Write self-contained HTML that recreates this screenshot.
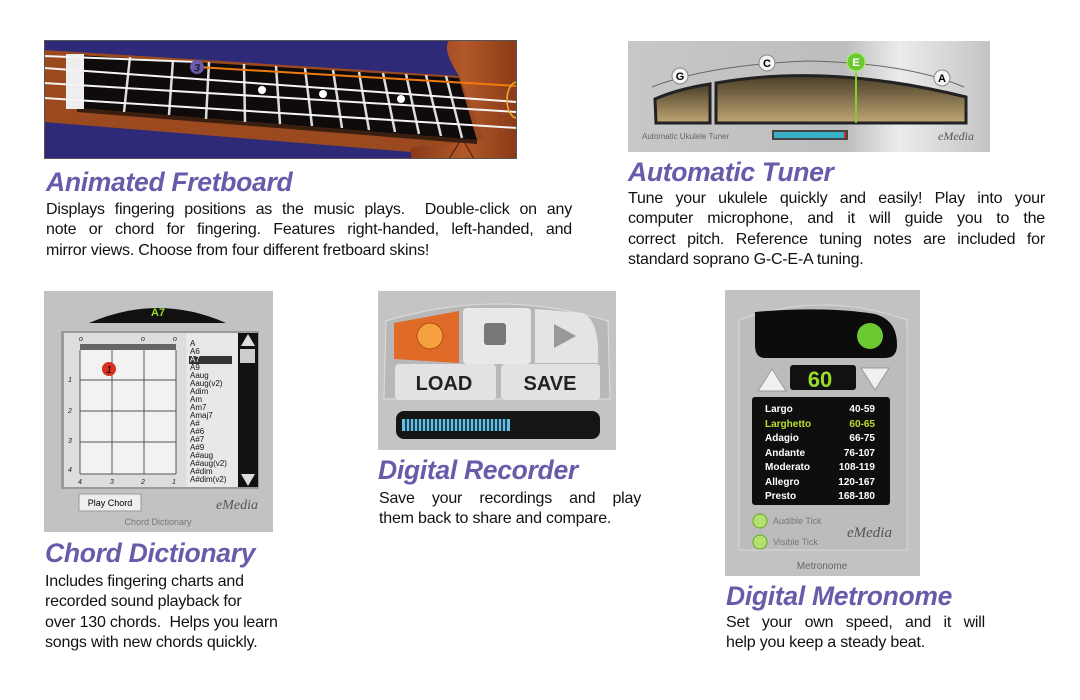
<!DOCTYPE html>
<html><head><meta charset="utf-8"><style>
body{margin:0;width:1080px;height:700px;background:#fff;position:relative;overflow:hidden;font-family:"Liberation Sans",sans-serif}
.a{position:absolute}
h2{position:absolute;margin:0;font:italic bold 26.5px "Liberation Sans",sans-serif;color:#6a5aaa;white-space:nowrap;letter-spacing:-0.3px}
.t{position:absolute;font-size:16px;line-height:20.3px;color:#111;letter-spacing:-0.2px}
.t div{white-space:nowrap;text-align:justify;text-align-last:justify}
.t div.l{text-align-last:left}
</style></head><body>

<!-- Fretboard -->
<svg class="a" style="left:44px;top:40px" width="473" height="119" viewBox="0 0 473 119">
<defs><linearGradient id="bd" x1="0" x2="1"><stop offset="0" stop-color="#8a3a18"/><stop offset=".5" stop-color="#b2582a"/><stop offset="1" stop-color="#8a3a18"/></linearGradient></defs>
<rect width="473" height="119" fill="#2e2a78"/>
<path d="M0 10 L33 12 L415 36 L440 100 L367 108 L367 119 L0 119 L0 78 Z" fill="#9a4a1e"/>
<path d="M0 82 L367 112 L367 119 L0 119 Z" fill="#2e2a78"/>
<path d="M405 0 L473 0 L473 119 L367 119 L367 108 L440 100 L415 36 Q398 10 405 0 Z" fill="url(#bd)"/>
<path d="M405 119 L418 98 L430 119" stroke="#4a1a08" fill="none"/>
<path d="M33 15 L415 38 L433 100 L33 68 Z" fill="#0e0b0a"/>
<path d="M33 68 L433 100 L433 104 L33 72 Z" fill="#3a1e10"/>
<rect x="22" y="14" width="18" height="55" fill="#eee"/>
<g stroke="#ddd" stroke-width="2.5">
<line x1="86" y1="17" x2="80" y2="72"/><line x1="129" y1="20" x2="125" y2="75"/><line x1="165" y1="22" x2="162" y2="79"/>
<line x1="200" y1="24" x2="201" y2="82"/><line x1="232" y1="26" x2="236" y2="84"/><line x1="261" y1="28" x2="268" y2="86"/>
<line x1="289" y1="30" x2="298" y2="88"/><line x1="315" y1="32" x2="325" y2="90"/><line x1="339" y1="33" x2="351" y2="92"/>
<line x1="362" y1="34" x2="375" y2="94"/><line x1="382" y1="35" x2="397" y2="96"/><line x1="402" y1="36" x2="418" y2="98"/></g>
<g stroke="#f4f4f4" stroke-width="2" fill="none">
<line x1="0" y1="16" x2="153" y2="22"/><line x1="0" y1="28" x2="473" y2="62"/><line x1="0" y1="43" x2="473" y2="72"/><line x1="0" y1="58" x2="473" y2="88"/></g>
<line x1="153" y1="27" x2="473" y2="46" stroke="#f07a10" stroke-width="2"/>
<circle cx="218" cy="50" r="4" fill="#fff"/><circle cx="279" cy="54" r="4" fill="#fff"/><circle cx="357" cy="59" r="4" fill="#fff"/>
<circle cx="153" cy="27" r="7" fill="#6b5bb0"/><text x="153" y="31.5" font-size="11" font-weight="bold" font-style="italic" text-anchor="middle" fill="#222">3</text>
<path d="M473 42 A10 18 0 0 0 473 78" stroke="#e8b030" stroke-width="1.5" fill="none"/>
<rect x="0.5" y="0.5" width="472" height="118" fill="none" stroke="#555"/>
</svg>
<h2 style="left:46px;top:167px">Animated Fretboard</h2>
<div class="t" style="left:46px;top:200px;width:526px">
<div>Displays fingering positions as the music plays.&nbsp; Double-click on any</div>
<div>note or chord for fingering. Features right-handed, left-handed, and</div>
<div class="l">mirror views. Choose from four different fretboard skins!</div></div>

<!-- Tuner -->
<svg class="a" style="left:628px;top:41px" width="362" height="111" viewBox="0 0 362 111">
<defs><linearGradient id="met" x1="0" x2="1"><stop offset="0" stop-color="#c8c8c8"/><stop offset=".6" stop-color="#bdbdbd"/><stop offset=".75" stop-color="#ececec"/><stop offset="1" stop-color="#c4c4c4"/></linearGradient>
<linearGradient id="win" x1="0" y1="0" x2="0" y2="1"><stop offset="0" stop-color="#4a3e28"/><stop offset="1" stop-color="#c0a674"/></linearGradient></defs>
<rect width="362" height="111" fill="url(#met)"/>
<path d="M24 46 Q80 24 180 20 Q280 22 336 46" stroke="#666" fill="none"/>
<path d="M27 58 Q50 48 82 43 L82 82 L28 82 Z" fill="url(#win)" stroke="#222" stroke-width="3"/>
<path d="M88 42 Q200 22 338 56 L338 82 L88 82 Z" fill="url(#win)" stroke="#222" stroke-width="3"/>
<line x1="228" y1="32" x2="228" y2="82" stroke="#7ed02a" stroke-width="2"/>
<g font-size="11" font-weight="bold" text-anchor="middle">
<circle cx="52" cy="35" r="8" fill="#f4f4f4" stroke="#888"/><text x="52" y="39">G</text>
<circle cx="139" cy="22" r="8" fill="#f4f4f4" stroke="#888"/><text x="139" y="26">C</text>
<circle cx="228" cy="21" r="9" fill="#6cc830" stroke="#9ef060"/><text x="228" y="25" fill="#fff">E</text>
<circle cx="314" cy="37" r="8" fill="#f4f4f4" stroke="#888"/><text x="314" y="41">A</text></g>
<text x="14" y="98" font-size="8" fill="#666">Automatic Ukulele Tuner</text>
<rect x="144" y="89" width="76" height="10" fill="#444"/><rect x="146" y="91" width="70" height="6" fill="#3ab0c8"/><rect x="216" y="91" width="2" height="6" fill="#d22"/>
<text x="310" y="99" font-size="12" font-style="italic" font-family="Liberation Serif" fill="#555">eMedia</text>
</svg>
<h2 style="left:628px;top:157px">Automatic Tuner</h2>
<div class="t" style="left:628px;top:189px;width:417px">
<div>Tune your ukulele quickly and easily! Play into your</div>
<div>computer microphone, and it will guide you to the</div>
<div>correct pitch. Reference tuning notes are included for</div>
<div class="l">standard soprano G-C-E-A tuning.</div></div>

<!-- Chord Dictionary -->
<svg class="a" style="left:44px;top:291px" width="229" height="241" viewBox="0 0 229 241">
<rect width="229" height="241" fill="#c2c2c2"/>
<path d="M45 32 Q114 2 182 32 Z" fill="#111"/>
<text x="114" y="25" font-size="11" fill="#9adc2a" text-anchor="middle" font-weight="bold">A7</text>
<rect x="17" y="40" width="198" height="158" fill="#999"/>
<rect x="20" y="42" width="122" height="154" fill="#ddd"/>
<rect x="142" y="42" width="52" height="154" fill="#e8e8e8"/>
<rect x="194" y="42" width="20" height="154" fill="#111"/>
<path d="M197 55 L204 43 L211 55 Z" fill="#ddd"/><path d="M197 183 L204 195 L211 183 Z" fill="#ddd"/><rect x="196" y="58" width="15" height="14" fill="#ccc"/>
<rect x="36" y="53" width="96" height="130" fill="#f2f2f2"/><rect x="36" y="53" width="96" height="6" fill="#666"/>
<g stroke="#555" stroke-width="1"><line x1="36" y1="59" x2="36" y2="183"/><line x1="68" y1="59" x2="68" y2="183"/><line x1="100" y1="59" x2="100" y2="183"/><line x1="132" y1="59" x2="132" y2="183"/>
<line x1="36" y1="89" x2="132" y2="89"/><line x1="36" y1="120" x2="132" y2="120"/><line x1="36" y1="151" x2="132" y2="151"/><line x1="36" y1="183" x2="132" y2="183"/></g>
<circle cx="65" cy="78" r="7" fill="#d8301e"/><text x="65" y="82" font-size="10" font-style="italic" text-anchor="middle">1</text>
<g font-size="7" font-style="italic" fill="#222"><text x="35" y="50">o</text><text x="97" y="50">o</text><text x="129" y="50">o</text>
<text x="24" y="91">1</text><text x="24" y="122">2</text><text x="24" y="152">3</text><text x="24" y="181">4</text>
<text x="34" y="193">4</text><text x="66" y="193">3</text><text x="97" y="193">2</text><text x="128" y="193">1</text></g>
<rect x="145" y="65" width="43" height="8" fill="#333"/>
<g font-size="8" fill="#111"><text x="146" y="55">A</text><text x="146" y="63">A6</text><text x="146" y="71" fill="#fff">A7</text><text x="146" y="79">A9</text><text x="146" y="87">Aaug</text><text x="146" y="95">Aaug(v2)</text><text x="146" y="103">Adim</text><text x="146" y="111">Am</text><text x="146" y="119">Am7</text><text x="146" y="127">Amaj7</text><text x="146" y="135">A#</text><text x="146" y="143">A#6</text><text x="146" y="151">A#7</text><text x="146" y="159">A#9</text><text x="146" y="167">A#aug</text><text x="146" y="175">A#aug(v2)</text><text x="146" y="183">A#dim</text><text x="146" y="191">A#dim(v2)</text></g>
<rect x="35" y="203" width="62" height="17" fill="#eee" stroke="#999"/><text x="66" y="215" font-size="9" text-anchor="middle">Play Chord</text>
<text x="172" y="218" font-size="14" font-style="italic" font-family="Liberation Serif" fill="#555">eMedia</text>
<text x="114" y="234" font-size="9" fill="#777" text-anchor="middle">Chord Dictionary</text>
</svg>
<h2 style="left:45px;top:538px">Chord Dictionary</h2>
<div class="t" style="left:45px;top:572px">
<div class="l">Includes fingering charts and</div>
<div class="l">recorded sound playback for</div>
<div class="l">over 130 chords.&nbsp; Helps you learn</div>
<div class="l">songs with new chords quickly.</div></div>

<!-- Recorder -->
<svg class="a" style="left:378px;top:291px" width="238" height="159" viewBox="0 0 238 159">
<rect width="238" height="159" fill="#c4c4c4"/>
<path d="M8 30 Q120 -4 230 30 L232 108 L6 108 Z" fill="#b8b8b8" stroke="#ddd"/>
<path d="M16 32 L81 20 L81 72 L16 68 Z" fill="#e06a28"/>
<circle cx="52" cy="45" r="13" fill="#f4a040" stroke="#b84a10"/>
<rect x="85" y="17" width="68" height="56" rx="4" fill="#e8e8e8"/><rect x="106" y="32" width="22" height="22" rx="3" fill="#777"/>
<path d="M157 18 L205 22 Q222 30 220 72 L157 72 Z" fill="#e4e4e4"/><path d="M176 33 L198 45 L176 57 Z" fill="#999"/>
<rect x="17" y="73" width="101" height="36" rx="4" fill="#e2e2e2"/><rect x="123" y="73" width="99" height="36" rx="4" fill="#e2e2e2"/>
<text x="66" y="99" font-size="20" font-weight="bold" text-anchor="middle" fill="#222">LOAD</text>
<text x="172" y="99" font-size="20" font-weight="bold" text-anchor="middle" fill="#222">SAVE</text>
<rect x="18" y="120" width="204" height="28" rx="8" fill="#151515"/>
<rect x="24" y="128" width="108" height="12" fill="#5ec0e8"/>
<g stroke="#151515" stroke-width="1.5"><path d="M28 128V140M32 128V140M36 128V140M40 128V140M44 128V140M48 128V140M52 128V140M56 128V140M60 128V140M64 128V140M68 128V140M72 128V140M76 128V140M80 128V140M84 128V140M88 128V140M92 128V140M96 128V140M100 128V140M104 128V140M108 128V140M112 128V140M116 128V140M120 128V140M124 128V140M128 128V140"/></g>
</svg>
<h2 style="left:378px;top:455px">Digital Recorder</h2>
<div class="t" style="left:379px;top:489px;width:262px">
<div>Save your recordings and play</div>
<div class="l">them back to share and compare.</div></div>

<!-- Metronome -->
<svg class="a" style="left:725px;top:290px" width="195" height="286" viewBox="0 0 195 286">
<rect width="195" height="286" fill="#c2c2c2"/>
<path d="M14 30 Q97 0 182 30 L182 260 L14 260 Z" fill="#bcbcbc" stroke="#d8d8d8"/>
<path d="M30 22 Q100 16 150 24 Q172 30 172 55 Q172 68 160 68 L40 68 Q30 68 30 55 Z" fill="#0c0c0c"/>
<circle cx="145" cy="46" r="13" fill="#6cc830"/>
<path d="M33 101 L47 79 L61 101 Z" fill="#f0f0f0" stroke="#999"/>
<path d="M136 78 L164 78 L150 100 Z" fill="#f0f0f0" stroke="#999"/>
<rect x="65" y="75" width="66" height="25" rx="3" fill="#111"/>
<text x="95" y="97" font-size="22" font-weight="bold" fill="#9adc2a" text-anchor="middle">60</text>
<rect x="27" y="107" width="138" height="108" rx="3" fill="#0e0e0e"/>
<g font-size="10" font-weight="bold" fill="#fff">
<text x="40" y="122">Largo</text><text x="150" y="122" text-anchor="end">40-59</text>
<text x="40" y="137" fill="#b8e030">Larghetto</text><text x="150" y="137" text-anchor="end" fill="#b8e030">60-65</text>
<text x="40" y="151">Adagio</text><text x="150" y="151" text-anchor="end">66-75</text>
<text x="40" y="166">Andante</text><text x="150" y="166" text-anchor="end">76-107</text>
<text x="40" y="180">Moderato</text><text x="150" y="180" text-anchor="end">108-119</text>
<text x="40" y="195">Allegro</text><text x="150" y="195" text-anchor="end">120-167</text>
<text x="40" y="209">Presto</text><text x="150" y="209" text-anchor="end">168-180</text></g>
<circle cx="35" cy="231" r="7" fill="#b4e070" stroke="#6a2"/><circle cx="35" cy="252" r="7" fill="#b4e070" stroke="#6a2"/>
<text x="48" y="234" font-size="9" fill="#777">Audible Tick</text><text x="48" y="255" font-size="9" fill="#777">Visible Tick</text>
<text x="122" y="247" font-size="15" font-style="italic" font-family="Liberation Serif" fill="#555">eMedia</text>
<text x="97" y="279" font-size="10" fill="#666" text-anchor="middle">Metronome</text>
</svg>
<h2 style="left:726px;top:581px">Digital Metronome</h2>
<div class="t" style="left:726px;top:613px;width:259px">
<div>Set your own speed, and it will</div>
<div class="l">help you keep a steady beat.</div></div>

</body></html>
